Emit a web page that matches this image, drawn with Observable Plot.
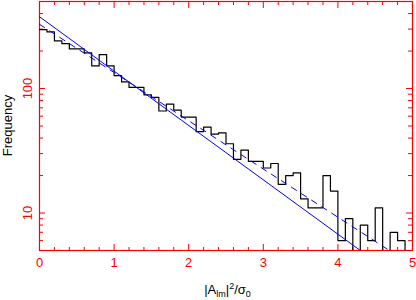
<!DOCTYPE html>
<html><head><meta charset="utf-8">
<script src="https://cdn.jsdelivr.net/npm/d3@7"></script>
<script src="https://cdn.jsdelivr.net/npm/@observablehq/plot@0.6"></script>
<style>body{margin:0;background:#fff;} #chart svg{display:block;}</style>
</head><body><div id="chart"></div>
<script>
// histogram bins (left edges) and counts
const binStart = [0.0,0.1,0.2,0.3,0.4,0.5,0.6,0.7,0.8,0.9,
                  1.0,1.1,1.2,1.3,1.4,1.5,1.6,1.7,1.8,1.9,
                  2.0,2.1,2.2,2.3,2.4,2.5,2.6,2.7,2.8,2.9,
                  3.0,3.1,3.2,3.3,3.4,3.5,3.6,3.7,3.8,3.9,
                  4.0,4.1,4.2,4.3,4.4,4.5,4.6,4.7,4.8,4.9];
const counts = [297,285,241,229,208,208,193,152,187,152,
                127,113,102,102,89,85,66,75,67,59,
                59,45,49,43,44,36,27,32,26,26,
                23,25,17,20,21,13,11,11,20,15,
                6,9,5,8,6,11,4,7,6,4];
const histEnd = 5.0;
// fitted lines (end points)
const solidX = [0, 4.30];
const solidY = [377, 5];
const dashX = [0, 4.69];
const dashY = [328, 5];
// axis ticks
const xMajor = [0,1,2,3,4,5];
const xMinor = [0.2,0.4,0.6,0.8,1.2,1.4,1.6,1.8,2.2,2.4,2.6,2.8,3.2,3.4,3.6,3.8,4.2,4.4,4.6,4.8];
const yMajor = [10,100];
const yMinor = [6,7,8,9,20,30,40,50,60,70,80,90,200,300,400];

const W = 416, H = 300, mL = 39, mR = 4, mT = 1, mB = 50;
const pw = W - mL - mR, ph = H - mT - mB;

const hist = binStart.map((x,i)=>({x, y: counts[i]}));
hist.push({x: histEnd, y: counts[counts.length-1]});
const solid = solidX.map((x,i)=>({x, y: solidY[i]}));
const dash = dashX.map((x,i)=>({x, y: dashY[i]}));

const red = "#ff0000";
const blue = "#0000ff";
const chart = Plot.plot({
  width: W, height: H,
  marginLeft: mL, marginRight: mR, marginTop: mT, marginBottom: mB,
  style: {fontFamily: "'Liberation Sans', Arial, sans-serif", fontSize: "13px", background: "#fff"},
  x: {domain: [0,5]},
  y: {type: "log", domain: [5, 500]},
  marks: [
    Plot.frame({stroke: red, strokeWidth: 1.2}),
    // bottom & top x ticks
    Plot.ruleX(xMajor, {x: d=>d, stroke: red, insetTop: ph - 6}),
    Plot.ruleX(xMinor, {x: d=>d, stroke: red, insetTop: ph - 3}),
    Plot.ruleX(xMajor, {x: d=>d, stroke: red, insetBottom: ph - 7}),
    Plot.ruleX(xMinor, {x: d=>d, stroke: red, insetBottom: ph - 4}),
    // left & right y ticks
    Plot.ruleY(yMajor, {y: d=>d, stroke: red, insetRight: pw - 6}),
    Plot.ruleY(yMinor, {y: d=>d, stroke: red, insetRight: pw - 4}),
    Plot.ruleY(yMajor, {y: d=>d, stroke: red, insetLeft: pw - 6}),
    Plot.ruleY(yMinor, {y: d=>d, stroke: red, insetLeft: pw - 4}),
    Plot.axisX({ticks: xMajor, tickSize: 0, tickPadding: 7, tickFormat: d=>String(d), color: red, label: null}),
    Plot.axisY({ticks: yMajor, tickSize: 0, tickPadding: 8, tickRotate: -90, tickFormat: d=>String(d), color: red, label: null}),
    Plot.line(hist, {x: "x", y: "y", curve: "step-after", stroke: "#000", strokeWidth: 1.2, clip: true}),
    Plot.line(solid, {x: "x", y: "y", stroke: blue, strokeWidth: 1, clip: true}),
    Plot.line(dash, {x: "x", y: "y", stroke: blue, strokeWidth: 1, strokeDasharray: "6,6", clip: true})
  ]
});
document.getElementById("chart").appendChild(chart);

const svg = d3.select(chart);
svg.append("text")
  .attr("transform", `translate(11.5,${mT + ph/2}) rotate(-90)`)
  .attr("text-anchor", "middle")
  .attr("fill", "#000")
  .style("font-size", "13px")
  .text("Frequency");
const xl = svg.append("text")
  .attr("x", mL + pw/2 + 2).attr("y", 294)
  .attr("text-anchor", "middle")
  .attr("fill", "#000")
  .style("font-size", "13px");
xl.append("tspan").text("|A");
xl.append("tspan").attr("dy", 3).style("font-size", "9px").text("lm");
xl.append("tspan").attr("dy", -3).text("|");
xl.append("tspan").attr("dy", -5).style("font-size", "9px").text("2");
xl.append("tspan").attr("dy", 5).text("/σ");
xl.append("tspan").attr("dy", 3).style("font-size", "9px").text("0");
</script>
</body></html>
